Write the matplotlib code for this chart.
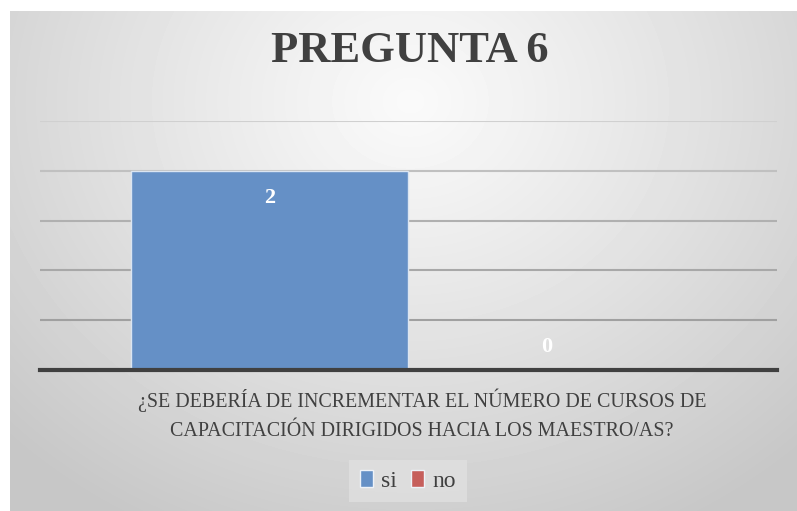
import numpy as np
import matplotlib.pyplot as plt
from matplotlib.patches import Patch

# data
categories = ["¿SE DEBERÍA DE INCREMENTAR EL NÚMERO DE CURSOS DE\nCAPACITACIÓN DIRIGIDOS HACIA LOS MAESTRO/AS?"]
series_names = ["si", "no"]
values = [2, 0]
colors = ["#6590c6", "#c65f5c"]

font = "Liberation Serif"
fig = plt.figure(figsize=(7.97, 5.11), dpi=100)
fig.patch.set_facecolor("white")

# gradient background panel
bg = fig.add_axes([10 / 797, 0, 1 - 10 / 797, 1 - 11 / 511], zorder=-5)
yy, xx = np.mgrid[0:500, 0:787]
r = np.sqrt(((xx - 400) / 560.0) ** 2 + ((yy - 90) / 480.0) ** 2)
shade = 0.98 - 0.2 * np.clip(r, 0, 1) ** 1.1
bg.imshow(shade, cmap="gray", vmin=0, vmax=1, aspect="auto", interpolation="bilinear")
bg.set_axis_off()

ax = fig.add_axes([40 / 797, 1 - 370 / 511, 737 / 797, 249 / 511])
ax.patch.set_alpha(0)

width = 0.376
offsets = [-0.188, 0.188]
for i, (name, val) in enumerate(zip(series_names, values)):
    ax.bar(offsets[i], val, width, color=colors[i], edgecolor="#dbe5f1", linewidth=1, label=name, zorder=3)
    y_lab = val - 0.27 if val > 0 else 0.23
    ax.text(offsets[i], y_lab, str(val), ha="center", va="center", color="white",
            fontsize=16, fontweight="bold", family=font, zorder=4)

ax.set_xlim(-0.5, 0.5)
ax.set_ylim(0, 2.5)
ax.set_yticks(np.arange(0, 2.51, 0.5))
ax.yaxis.grid(True, linewidth=1.5, zorder=0)
grid_colors = ["#404040", "#a0a0a0", "#a8a8a8", "#b0b0b0", "#c0c0c0", "#d0d0d0"]
for gl, c in zip(ax.get_ygridlines(), grid_colors):
    gl.set_color(c)
ax.tick_params(left=False, bottom=False, labelleft=False, labelbottom=False)
for s in ["top", "right", "left"]:
    ax.spines[s].set_visible(False)
ax.spines["bottom"].set_color("#404040")
ax.spines["bottom"].set_linewidth(3)
ax.spines["bottom"].set_zorder(5)

fig.text(410 / 797, 1 - 51 / 511, "PREGUNTA 6", ha="center", va="center", fontsize=32,
         fontweight="bold", color="#404040", family=font)
fig.text(422 / 797, 1 - 415 / 511, categories[0], ha="center", va="center", fontsize=14.4,
         color="#404040", family=font, linespacing=1.7)

handles = [Patch(facecolor=c, edgecolor="#eef2f8", linewidth=1, label=n) for c, n in zip(colors, series_names)]
leg = fig.legend(handles=handles, loc="center", bbox_to_anchor=(408 / 797, 1 - 481 / 511), ncol=2,
                 frameon=True, handlelength=0.55, handleheight=0.7, handletextpad=0.35,
                 columnspacing=0.6, borderpad=0.45, prop={"family": font, "size": 17})
leg.get_frame().set_facecolor("#e0e0e0")
leg.get_frame().set_edgecolor("none")
leg.get_frame().set_boxstyle("square", pad=0)
for t in leg.get_texts():
    t.set_color("#404040")

fig.savefig("out.png", dpi=100)
